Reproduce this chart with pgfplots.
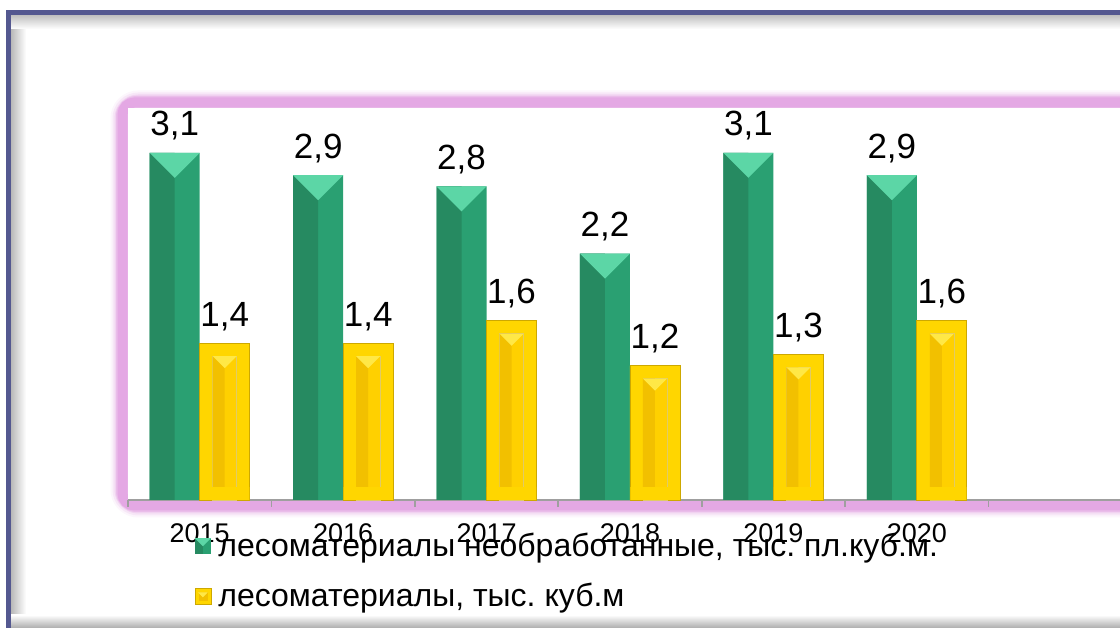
\documentclass[border=0pt]{standalone}
\usepackage{fontspec}
\setmainfont{Liberation Sans}
\usepackage{pgfplots}
\pgfplotsset{compat=1.18}
\usepackage{pgfplotstable}
\frenchspacing

\definecolor{gDark}{RGB}{38,138,97}
\definecolor{gMid}{RGB}{42,160,114}
\definecolor{gTop}{RGB}{92,214,166}
\definecolor{yOuter}{RGB}{255,214,0}
\definecolor{yEdge}{RGB}{205,168,0}
\definecolor{yInL}{RGB}{242,192,0}
\definecolor{yInR}{RGB}{255,208,0}
\definecolor{yTop}{RGB}{255,232,70}
\definecolor{frameblue}{RGB}{84,88,144}
\definecolor{glow}{RGB}{228,168,228}

\pgfplotstableread{
x raw sawn
0 3.1 1.4
1 2.9 1.4
2 2.8 1.6
3 2.2 1.2
4 3.1 1.3
5 2.9 1.6
}\datatable

% bevel tops: triangles hanging from the top edge of a bar
\pgfdeclareplotmark{gtri}{%
  \pgfpathmoveto{\pgfpoint{-12.5pt}{0pt}}%
  \pgfpathlineto{\pgfpoint{12.5pt}{0pt}}%
  \pgfpathlineto{\pgfpoint{0pt}{-12.5pt}}%
  \pgfpathclose\pgfusepathqfill}
\pgfdeclareplotmark{ytri}{%
  \pgfpathmoveto{\pgfpoint{-6pt}{0pt}}%
  \pgfpathlineto{\pgfpoint{6pt}{0pt}}%
  \pgfpathlineto{\pgfpoint{0pt}{-6pt}}%
  \pgfpathclose\pgfusepathqfill}

\begin{document}
\begin{tikzpicture}[x=0.5pt,y=0.5pt]
\useasboundingbox (0,0) rectangle (1120,627);
\begin{pgfinterruptboundingbox}
\begin{scope}
\clip (0,0) rectangle (1120,627);
\fill[white] (0,0) rectangle (1120,627);
% outer panel with inner shadow
\shade[left color=gray!55, right color=white] (11,0) rectangle (26,612);
\shade[top color=gray!50, bottom color=white] (11,598) rectangle (1120,612);
\shade[bottom color=gray!60, top color=white] (11,0) rectangle (1120,12);
\draw[frameblue, line width=2.5pt] (8.5,-20) -- (8.5,614.5) -- (1200,614.5);
% pink glowing plot frame
\draw[glow, line width=12pt, opacity=0.1, rounded corners=8pt] (122.5,121.5) rectangle (1160,524.5);
\draw[glow, line width=10pt, opacity=0.18, rounded corners=8pt] (122.5,121.5) rectangle (1160,524.5);
\draw[glow, line width=8pt, opacity=0.3, rounded corners=8pt] (122.5,121.5) rectangle (1160,524.5);
\draw[glow, line width=6.5pt, opacity=0.5, rounded corners=7pt] (122.5,121.5) rectangle (1160,524.5);
\draw[glow, line width=5pt, rounded corners=6pt] (122.5,121.5) rectangle (1160,524.5);
\fill[white] (128,127) rectangle (1160,519);

\begin{axis}[
  at={(64pt,63.5pt)}, anchor=south west,
  scale only axis, width=502pt, height=196pt,
  xmin=-0.5, xmax=6.5, ymin=0, ymax=3.5,
  axis x line*=bottom, axis y line=none,
  axis line style={draw=gray!75, line width=0.8pt},
  xtick={0,...,5}, xticklabels={2015,2016,2017,2018,2019,2020},
  major tick length=0pt,
  minor xtick={-0.5,0.5,...,6.5}, minor tick length=3.5pt,
  tick align=outside, minor tick style={gray!75, line width=0.8pt},
  xticklabel style={font=\fontsize{13.5}{16}\selectfont, yshift=-8.5pt},
  ytick=\empty,
  /pgf/number format/.cd, use comma, fixed, fixed zerofill, precision=1, assume math mode=true, /pgfplots/.cd,
  nodes near coords style={font=\fontsize{17.5}{20}\selectfont, anchor=south, inner sep=0pt, yshift=6pt},
  legend style={at={(0.066,-0.073)}, anchor=north west, draw=none, fill=none,
    font=\fontsize{16}{19}\selectfont, inner sep=0pt, row sep=8pt},
  legend cell align=left,
  clip=false,
]
% green series
\addplot[ybar, bar width=25pt, bar shift=-12.5pt, fill=gMid, draw=none, nodes near coords,
  every node near coord/.append style={xshift=-12.5pt},
  legend image code/.code={
    \fill[gMid] (0pt,-4pt) rectangle (8pt,4pt);
    \fill[gDark] (0pt,-4pt) rectangle (4pt,4pt);
    \fill[gTop] (0pt,4pt) -- (8pt,4pt) -- (4pt,0pt) -- cycle;
    \path (9.5pt,0pt);}]
  table[x=x, y=raw] {\datatable};
\addlegendentry{лесоматериалы необработанные, тыс. пл.куб.м.}
\addplot[ybar, bar width=12.5pt, bar shift=-18.75pt, fill=gDark, draw=none, forget plot]
  table[x=x, y=raw] {\datatable};
\addplot[only marks, mark=gtri, color=gTop, mark options={xshift=-12.5pt}, forget plot]
  table[x=x, y=raw] {\datatable};
% yellow series
\addplot[ybar, bar width=25pt, bar shift=12.5pt, fill=yOuter, draw=yEdge, line width=0.4pt, nodes near coords,
  every node near coord/.append style={xshift=12.5pt},
  legend image code/.code={
    \fill[yOuter, draw=yEdge, line width=0.3pt] (0pt,-4pt) rectangle (8pt,4pt);
    \fill[yInL] (2pt,-2pt) rectangle (6pt,2pt);
    \fill[yTop] (2pt,2pt) -- (6pt,2pt) -- (4pt,0pt) -- cycle;
    \path (9.5pt,0pt);}]
  table[x=x, y=sawn] {\datatable};
\addlegendentry{лесоматериалы, тыс. куб.м}
% inner panel of the gold bars, inset by 13 px
\addplot[ybar, bar width=12pt, bar shift=12.5pt, fill=yInR, draw=yEdge!60, line width=0.3pt, forget plot]
  table[x=x, y expr=\thisrow{sawn}-0.116] {\datatable};
\addplot[ybar, bar width=6pt, bar shift=9.5pt, fill=yInL, draw=none, forget plot]
  table[x=x, y expr=\thisrow{sawn}-0.116] {\datatable};
\addplot[ybar, bar width=24.6pt, bar shift=12.5pt, fill=yOuter, draw=none, forget plot]
  coordinates {(0,0.116) (1,0.116) (2,0.116) (3,0.116) (4,0.116) (5,0.116)};
\addplot[only marks, mark=ytri, color=yTop, mark options={xshift=12.5pt}, forget plot]
  table[x=x, y expr=\thisrow{sawn}-0.116] {\datatable};
\end{axis}
\end{scope}
\end{pgfinterruptboundingbox}
\end{tikzpicture}
\end{document}
